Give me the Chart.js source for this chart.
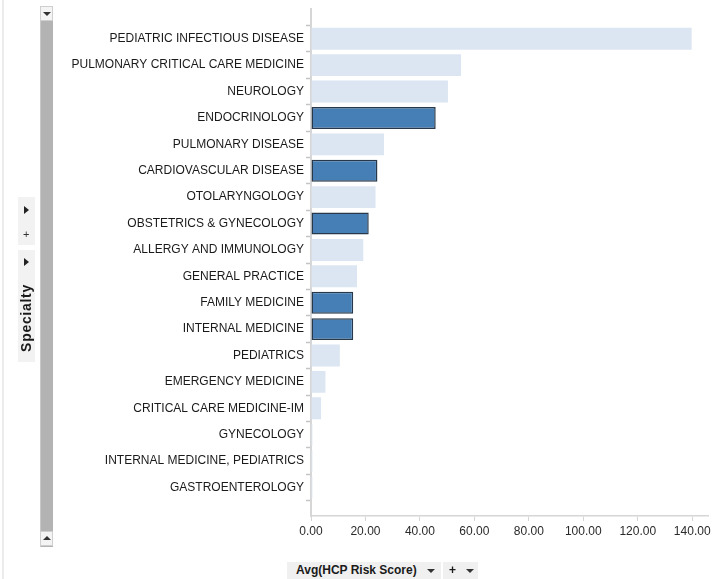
<!DOCTYPE html>
<html>
<head>
<meta charset="utf-8">
<script src="https://cdn.jsdelivr.net/npm/chart.js@4/dist/chart.umd.min.js"></script>
<style>
  html, body { margin: 0; padding: 0; background: #fff; }
  #wrap { position: relative; width: 721px; height: 579px; overflow: hidden; font-family: "Liberation Sans", Arial, sans-serif; }
  #c { position: absolute; left: 0; top: 0; }
  .edge { position: absolute; left: 2px; top: 0; width: 2px; height: 579px; background: #ececec; }
  .scroll { position: absolute; left: 40px; top: 6px; width: 12px; height: 541px; background: #b3b3b3; border-left: 1px solid #c8c8c8; }
  .sbtn { position: absolute; left: 40px; height: 15px; background: #f4f4f4; border: 1px solid #cfcfcf; box-sizing: border-box; width: 13px; }
  .tri-d { position: absolute; width: 0; height: 0; border-left: 4px solid transparent; border-right: 4px solid transparent; border-top: 4px solid #333; }
  .tri-u { position: absolute; width: 0; height: 0; border-left: 4px solid transparent; border-right: 4px solid transparent; border-bottom: 4px solid #333; }
  .tri-r { position: absolute; width: 0; height: 0; border-top: 4px solid transparent; border-bottom: 4px solid transparent; border-left: 5px solid #222; }
  .panel { position: absolute; left: 18px; width: 17px; background: #f2f2f2; }
  .plus { position: absolute; font-size: 11px; color: #333; line-height: 11px; }
  .vlabel { position: absolute; left: 26px; top: 318px; transform: translate(-50%, -50%) rotate(-90deg); font-weight: bold; font-size: 14px; color: #1a1a1a; white-space: nowrap; letter-spacing: 0.7px; }
  .btn { position: absolute; top: 562px; height: 17px; background: #f0f0f0; font-size: 12px; color: #1a1a1a; line-height: 17px; }
</style>
</head>
<body>
<div id="wrap">
  <canvas id="c" width="721" height="579"></canvas>
  <div class="edge"></div>
  <div class="scroll"></div>
  <div class="sbtn" style="top:6px;"><div class="tri-d" style="left:2px; top:5px;"></div></div>
  <div class="sbtn" style="top:531px;"><div class="tri-u" style="left:2px; top:4px;"></div></div>
  <div class="panel" style="top:197px; height:48px;">
    <div class="tri-r" style="left:6px; top:9px;"></div>
    <div class="plus" style="left:5px; top:32px;">+</div>
  </div>
  <div class="panel" style="top:250px; height:112px;">
    <div class="tri-r" style="left:6px; top:8px;"></div>
  </div>
  <div class="vlabel">Specialty</div>
  <div class="btn" style="left:287px; width:154px;">
    <span style="position:absolute; left:9px; font-weight:bold;">Avg(HCP Risk Score)</span>
    <div class="tri-d" style="left:140px; top:7px;"></div>
  </div>
  <div class="btn" style="left:443px; width:35px;">
    <span style="position:absolute; left:6px; font-weight:bold;">+</span>
    <div class="tri-d" style="left:23px; top:7px;"></div>
  </div>
</div>
<script>
const categories = [
  "PEDIATRIC INFECTIOUS DISEASE",
  "PULMONARY CRITICAL CARE MEDICINE",
  "NEUROLOGY",
  "ENDOCRINOLOGY",
  "PULMONARY DISEASE",
  "CARDIOVASCULAR DISEASE",
  "OTOLARYNGOLOGY",
  "OBSTETRICS & GYNECOLOGY",
  "ALLERGY AND IMMUNOLOGY",
  "GENERAL PRACTICE",
  "FAMILY MEDICINE",
  "INTERNAL MEDICINE",
  "PEDIATRICS",
  "EMERGENCY MEDICINE",
  "CRITICAL CARE MEDICINE-IM",
  "GYNECOLOGY",
  "INTERNAL MEDICINE, PEDIATRICS",
  "GASTROENTEROLOGY"
];
const avgRiskScore = [139.8, 55.1, 50.3, 45.8, 26.8, 24.4, 23.7, 21.2, 19.2, 16.9, 15.5, 15.5, 10.6, 5.3, 3.7, 0.5, 0.5, 0.5];
const selected = [false, false, false, true, false, true, false, true, false, false, true, true, false, false, false, false, false, false];
const xTicks = [0, 20, 40, 60, 80, 100, 120, 140];

const lightFill = 'rgb(220,230,242)';
const darkFill = 'rgb(70,127,181)';
const darkBorder = '#26384a';
const axisColor = '#d6d6d6';

const points = avgRiskScore.map((v, i) => ({ x: v, y: i }));

new Chart(document.getElementById('c'), {
  type: 'bar',
  data: {
    datasets: [{
      data: points,
      backgroundColor: selected.map(s => s ? darkFill : lightFill),
      borderColor: selected.map(s => s ? darkBorder : 'rgba(0,0,0,0)'),
      borderWidth: selected.map(s => s ? 1.5 : 0),
      borderSkipped: false,
      barPercentage: 0.83,
      categoryPercentage: 2.0
    }]
  },
  options: {
    indexAxis: 'y',
    responsive: false,
    animation: false,
    layout: { padding: { left: 60, right: 13, top: 7, bottom: 33 } },
    plugins: { legend: { display: false }, tooltip: { enabled: false } },
    scales: {
      x: {
        type: 'linear',
        min: 0,
        max: 145.8,
        afterBuildTicks: (scale) => { scale.ticks = xTicks.map(v => ({ value: v })); },
        afterFit: (scale) => { scale.height = 30; },
        border: { display: true, color: axisColor, width: 1.5 },
        grid: { drawOnChartArea: false, tickLength: 5, color: axisColor, tickColor: axisColor },
        ticks: {
          padding: 3,
          color: '#2a2a2a',
          font: { family: 'Liberation Sans', size: 12 },
          callback: (v) => Number(v).toFixed(2),
          maxRotation: 0,
          autoSkip: false
        }
      },
      y: {
        type: 'linear',
        reverse: true,
        offset: false,
        min: -1.12,
        max: 18.08,
        afterBuildTicks: (scale) => {
          const t = [];
          for (let i = -1; i <= categories.length * 2 - 1; i++) t.push({ value: i / 2 });
          scale.ticks = t;
        },
        afterFit: (scale) => { scale.width = 251; },
        border: { display: true, color: axisColor, width: 2 },
        grid: {
          offset: false,
          drawOnChartArea: false,
          tickLength: 5,
          tickWidth: 1.5,
          tickColor: (ctx) => (ctx.tick && Number.isInteger(ctx.tick.value)) ? 'rgba(0,0,0,0)' : '#c4c4c4'
        },
        ticks: {
          padding: 2,
          autoSkip: false,
          color: '#1a1a1a',
          font: { family: 'Liberation Sans', size: 12 },
          callback: (v) => Number.isInteger(v) && v >= 0 && v < categories.length ? categories[v] : ''
        }
      }
    }
  }
});
</script>
</body>
</html>
